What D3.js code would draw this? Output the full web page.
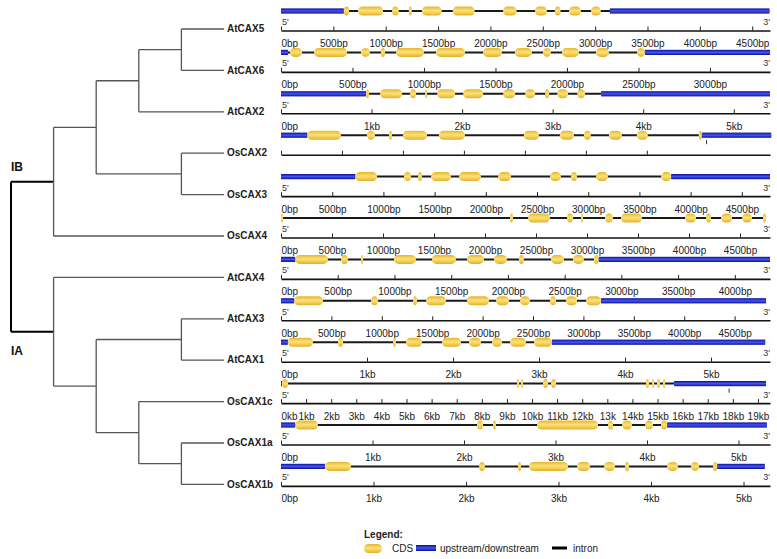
<!DOCTYPE html>
<html><head><meta charset="utf-8">
<script src="https://cdn.jsdelivr.net/npm/d3@7"></script>
<style>body{margin:0;background:#fff}svg{display:block}text{font-family:"Liberation Sans",Arial,sans-serif}</style>
</head><body><svg id="c" width="777" height="559"></svg>
<script>
// ---------- data ----------
const genes = ["AtCAX5","AtCAX6","AtCAX2","OsCAX2","OsCAX3","OsCAX4","AtCAX4","AtCAX3","AtCAX1","OsCAX1c","OsCAX1a","OsCAX1b"];
const tree = {children:[
  {name:"IB", children:[
    {children:[
      {children:[{children:[{name:"AtCAX5"},{name:"AtCAX6"}]},{name:"AtCAX2"}]},
      {children:[{name:"OsCAX2"},{name:"OsCAX3"}]}
    ]},
    {name:"OsCAX4"}
  ]},
  {name:"IA", children:[
    {name:"AtCAX4"},
    {children:[
      {children:[{name:"AtCAX3"},{name:"AtCAX1"}]},
      {children:[{name:"OsCAX1c"},{children:[{name:"OsCAX1a"},{name:"OsCAX1b"}]}]}
    ]}
  ]}
]};
const axisMax = [4670,3420,5400,4010,4775,4794,4310,4851,5686,19480,5344,5286];
const geneEnd = [4665,3420,5400,4020,4775,4755,4310,4812,5630,19320,5310,5230];
const utr5 = [[0,600],[0,50],[0,940],[0,215],[0,725],null,[0,125],[0,130],[0,80],[0,40],[0,155],[0,475]];
const utr3 = [[3140,4665],[2545,3420],[3535,5400],[3450,4020],[3810,4775],null,[2800,4310],[3175,4812],[3150,5630],[15660,19320],[4220,5310],[4715,5230]];
const cds = [
 [[600,650],[735,975],[1060,1125],[1220,1250],[1345,1535],[1640,1850],[2120,2250],[2425,2540],[2615,2670],[2750,2865],[2960,3055]],
 [[63,147],[231,462],[559,622],[699,727],[804,1000],[1084,1287],[1413,1545],[1636,1755],[1832,1888],[1965,2084],[2203,2294],[2490,2545]],
 [[940,972],[1094,1337],[1425,1492],[1591,1613],[1724,1923],[2011,2232],[2453,2586],[2696,2807],[2917,2961],[3050,3171],[3271,3359]],
 [[215,492],[705,770],[885,910],[1000,1197],[1295,1508],[1992,2115],[2287,2402],[2484,2541],[2689,2795],[2918,3008],[3426,3451]],
 [[725,938],[1201,1270],[1338,1377],[1465,1660],[1738,1953],[2119,2246],[2627,2734],[2832,2891],[3076,3193],[3711,3810]],
 [[0,20],[2245,2275],[2422,2637],[2804,2863],[2941,2961],[3176,3255],[3333,3539],[3961,4069],[4167,4216],[4314,4422],[4520,4618],[4725,4755]],
 [[125,414],[529,590],[705,723],[996,1189],[1330,1542],[1639,1789],[1877,1991],[2097,2141],[2379,2494],[2573,2670],[2758,2800]],
 [[130,417],[893,962],[1310,1349],[1439,1637],[1845,2064],[2133,2262],[2371,2470],[2669,2728],[2827,2937],[3026,3175]],
 [[80,372],[663,721],[1303,1337],[1454,1640],[1872,2093],[2186,2326],[2454,2570],[2663,2849],[2942,3150]],
 [[40,280],[9402,9482],[9562,9641],[10438,10637],[10757,10956],[14542,14661],[14781,14861],[14980,15099],[15219,15299]],
 [[155,404],[2142,2208],[2317,2350],[2798,3465],[3574,3629],[3727,3837],[3979,4066],[4153,4220]],
 [[475,757],[2141,2205],[2562,2595],[2681,3103],[3200,3341],[3492,3611],[3719,3762],[4173,4292],[4432,4519],[4670,4715]]
];
const tickStep = [500,500,1000,500,500,500,500,500,1000,1000,1000,1000];
const bp500 = n => d3.range(n).map(i => (i*500)+"bp");
const kb = n => d3.range(n).map(i => i===0 ? "0bp" : i+"kb");
const tickLabels = [
 bp500(10), bp500(7), kb(6), ["","","","","","",""], bp500(10), bp500(10), bp500(9), bp500(10), kb(6),
 ["0kb","1kb","2kb","3kb","4kb","5kb","6kb","7kb","8kb","9kb","10kb","11kb","12kb","13k","14kb","15kb","16kb","17kb","18kb","19kb"],
 kb(6), kb(6)
];
const showEnds = [true,true,true,false,true,true,true,true,true,true,true,true];
const strayMarks = [[3,3490],[9,17850]];
const legendItems = ["CDS","upstream/downstream","intron"];

// ---------- drawing ----------
const svg = d3.select("#c");
const defs = svg.append("defs");
const yg = defs.append("linearGradient").attr("id","yg").attr("x1",0).attr("y1",0).attr("x2",0).attr("y2",1);
[["0%","#e6b62c"],["45%","#fbe07a"],["60%","#f8d862"],["100%","#e3b02a"]].forEach(s=>yg.append("stop").attr("offset",s[0]).attr("stop-color",s[1]));
const bg = defs.append("linearGradient").attr("id","bg").attr("x1",0).attr("y1",0).attr("x2",0).attr("y2",1);
[["0%","#0d0d9a"],["50%","#4257f2"],["100%","#0d0d9a"]].forEach(s=>bg.append("stop").attr("offset",s[0]).attr("stop-color",s[1]));

const rowY = d3.scaleLinear().domain([0, genes.length-1]).range([11, 466.4]);
const leafY = i => rowY(i) + 18;

// tree
const root = d3.hierarchy(tree);
const tx = d3.scaleLinear().domain([root.height, 0]).range([11, 224]);
root.eachAfter(n => {
  n.px = tx(n.height);
  if (!n.children) { n.py = leafY(genes.indexOf(n.data.name)); }
  else { n.py = (n.children[0].py + n.children[n.children.length-1].py)/2; }
});
const tg = svg.append("g");
root.each(n => {
  if (!n.children) return;
  const isRoot = n.depth === 0;
  const col = isRoot ? "#000" : "#555", w = isRoot ? 2 : 1.3;
  const ys = n.children.map(c=>c.py);
  tg.append("line").attr("x1",n.px).attr("x2",n.px).attr("y1",d3.min(ys)).attr("y2",d3.max(ys))
    .attr("stroke",col).attr("stroke-width",w);
  n.children.forEach(c => {
    tg.append("line").attr("x1",n.px).attr("x2",c.px).attr("y1",c.py).attr("y2",c.py)
      .attr("stroke",col).attr("stroke-width",w);
  });
});
root.leaves().forEach(l => {
  tg.append("text").attr("x",227).attr("y",l.py).attr("dy","0.32em")
    .attr("font-size",10).attr("font-weight","bold").attr("fill","#222").text(l.data.name);
});
root.children.forEach((c,k) => {
  tg.append("text").attr("x",11).attr("y",c.py + (k===0 ? -15 : 19)).attr("dy","0.35em")
    .attr("font-size",12).attr("font-weight","bold").attr("fill","#111").text(c.data.name);
});

// gene structures
genes.forEach((g,i) => {
  const sy = rowY(i);
  const x = d3.scaleLinear().domain([0, axisMax[i]]).range([281, 770]);
  const gg = svg.append("g");
  gg.append("line").attr("x1",x(0)).attr("x2",x(geneEnd[i])).attr("y1",sy).attr("y2",sy)
    .attr("stroke","#1a1a1a").attr("stroke-width",2);
  [utr5[i], utr3[i]].filter(d=>d).forEach(u => {
    gg.append("rect").attr("x",x(u[0])).attr("width",x(u[1])-x(u[0])).attr("y",sy-2.6).attr("height",5.2)
      .attr("fill","url(#bg)");
  });
  cds[i].forEach(c => {
    const w = Math.max(2, x(c[1])-x(c[0]));
    gg.append("rect").attr("x",x(c[0])).attr("width",w).attr("y",sy-4.5).attr("height",9)
      .attr("rx",Math.min(4.5,w/2)).attr("ry",4.5)
      .attr("fill","url(#yg)");
  });
  if (showEnds[i]) {
    gg.append("text").attr("x",282).attr("y",sy+14).attr("font-size",9).attr("fill","#333").text("5'");
    gg.append("text").attr("x",770).attr("y",sy+14).attr("text-anchor","end").attr("font-size",9).attr("fill","#333").text("3'");
  }
  const vals = tickLabels[i].map((_,j)=>j*tickStep[i]);
  const ax = d3.axisBottom(x).tickValues(vals).tickFormat((d,j)=>tickLabels[i][j])
    .tickSizeInner(-4).tickSizeOuter(0).tickPadding(9.5);
  const ag = gg.append("g").attr("transform",`translate(0,${sy+19.5})`).call(ax);
  ag.select(".domain").attr("stroke","#111").attr("stroke-width",1.6);
  ag.selectAll(".tick line").attr("stroke","#222").attr("stroke-width",1);
  ag.selectAll(".tick text").attr("font-size",10).attr("fill","#222")
    .attr("font-family",'"Liberation Sans",Arial,sans-serif')
    .attr("text-anchor",(d,j)=> j===0 ? "start" : "middle");
});
strayMarks.forEach(([r,b]) => {
  const x = d3.scaleLinear().domain([0, axisMax[r]]).range([281, 770]);
  svg.append("line").attr("x1",x(b)).attr("x2",x(b)).attr("y1",rowY(r)+5).attr("y2",rowY(r)+9)
    .attr("stroke","#333").attr("stroke-width",1);
});

// legend
const lg = svg.append("g");
lg.append("text").attr("x",364).attr("y",538).attr("font-size",10).attr("font-weight","bold").attr("fill","#222").text("Legend:");
lg.append("rect").attr("x",364).attr("y",544).attr("width",18).attr("height",9).attr("rx",4.5).attr("fill","url(#yg)");
lg.append("text").attr("x",392).attr("y",552).attr("font-size",10).attr("fill","#222").text(legendItems[0]);
lg.append("rect").attr("x",416).attr("y",545).attr("width",20).attr("height",6).attr("fill","url(#bg)");
lg.append("text").attr("x",440).attr("y",552).attr("font-size",10).attr("fill","#222").text(legendItems[1]);
lg.append("rect").attr("x",552).attr("y",546.5).attr("width",15).attr("height",3).attr("fill","#000");
lg.append("text").attr("x",573).attr("y",552).attr("font-size",10).attr("fill","#222").text(legendItems[2]);
</script></body></html>
